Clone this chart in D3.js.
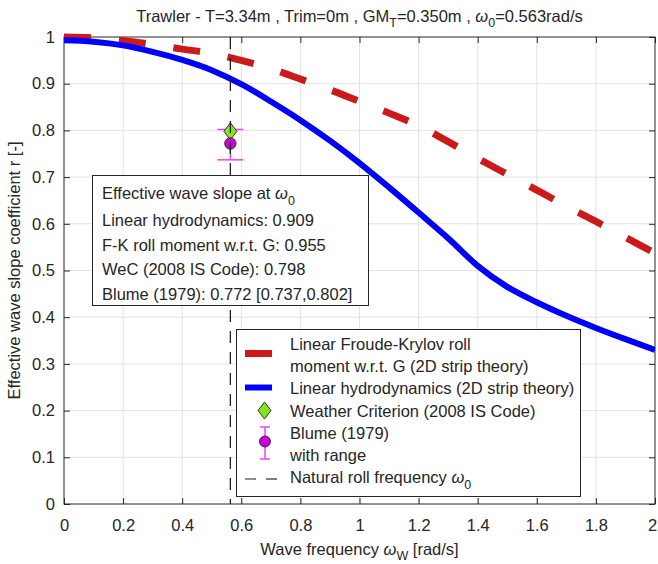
<!DOCTYPE html>
<html>
<head>
<meta charset="utf-8">
<script src="https://cdn.jsdelivr.net/npm/d3@7"></script>
<style>
  html, body { margin: 0; padding: 0; background: #fff; }
  svg text { font-family: "Liberation Sans", Arial, Helvetica, sans-serif; fill: #262626; }
</style>
</head>
<body>
<svg id="chart" width="658" height="564"></svg>
<script>
// Wave frequency grid [rad/s]
const omega = [0, 0.1, 0.2, 0.3, 0.4, 0.5, 0.6, 0.7, 0.8, 0.9, 1.0,
               1.1, 1.2, 1.3, 1.4, 1.5, 1.6, 1.7, 1.8, 1.9, 2.0];
// Linear Froude-Krylov roll moment w.r.t. G (2D strip theory)
const rFK = [1.000, 0.998, 0.992, 0.984, 0.974, 0.965, 0.950, 0.932, 0.910, 0.887, 0.862,
             0.837, 0.810, 0.776, 0.740, 0.706, 0.672, 0.638, 0.605, 0.571, 0.537];
// Linear hydrodynamics (2D strip theory)
const rLin = [0.993, 0.990, 0.982, 0.968, 0.951, 0.929, 0.899, 0.862, 0.822, 0.778, 0.730,
              0.678, 0.624, 0.569, 0.510, 0.465, 0.432, 0.403, 0.377, 0.353, 0.330];

// Natural roll frequency and point estimates at omega0
const omega0 = 0.563;
const rWeC = 0.798;
const rBlume = 0.772;
const blumeRange = [0.737, 0.802];
const rLinAt0 = 0.909;
const rFKAt0 = 0.955;

const xTicks = [0, 0.2, 0.4, 0.6, 0.8, 1, 1.2, 1.4, 1.6, 1.8, 2];
const yTicks = [0, 0.1, 0.2, 0.3, 0.4, 0.5, 0.6, 0.7, 0.8, 0.9, 1];

const FS = 16.5, FSUB = 12.5;
const svg = d3.select("#chart");
const L = 64, R = 655, T = 37, B = 504;
const x = d3.scaleLinear().domain([0, 2]).range([L, R]);
const y = d3.scaleLinear().domain([0, 1]).range([B, T]);
const axisColor = "#262626";

// grid
const grid = svg.append("g");
grid.selectAll("line.gx").data(xTicks.slice(1, -1)).join("line")
  .attr("x1", d => x(d)).attr("x2", d => x(d)).attr("y1", T).attr("y2", B)
  .attr("stroke", "#e3e3e3").attr("stroke-width", 1);
grid.selectAll("line.gy").data(yTicks.slice(1, -1)).join("line")
  .attr("x1", L).attr("x2", R).attr("y1", d => y(d)).attr("y2", d => y(d))
  .attr("stroke", "#e3e3e3").attr("stroke-width", 1);

// axes (inward ticks on all four sides)
const fmt = d => d3.format("")(d);
const gB = svg.append("g").attr("transform", `translate(0,${B})`)
  .call(d3.axisBottom(x).tickValues(xTicks).tickSizeInner(-6).tickSizeOuter(0).tickPadding(15).tickFormat(fmt));
const gL = svg.append("g").attr("transform", `translate(${L},0)`)
  .call(d3.axisLeft(y).tickValues(yTicks).tickSizeInner(-6).tickSizeOuter(0).tickPadding(9).tickFormat(fmt));
const gTop = svg.append("g").attr("transform", `translate(0,${T})`)
  .call(d3.axisTop(x).tickValues(xTicks).tickSizeInner(-6).tickSizeOuter(0).tickFormat(""));
const gR = svg.append("g").attr("transform", `translate(${R},0)`)
  .call(d3.axisRight(y).tickValues(yTicks).tickSizeInner(-6).tickSizeOuter(0).tickFormat(""));
[gB, gL, gTop, gR].forEach(g => {
  g.select(".domain").remove();
  g.selectAll(".tick line").attr("stroke", axisColor);
  g.selectAll(".tick text").attr("font-size", FS).attr("fill", axisColor)
    .style("font-family", '"Liberation Sans", Arial, sans-serif');
});
// keep the last x tick label inside the page
gB.selectAll(".tick text").filter(d => d === 2).attr("text-anchor", "end").attr("dx", "0.1em");
svg.append("rect").attr("x", L).attr("y", T).attr("width", R - L).attr("height", B - T)
  .attr("fill", "none").attr("stroke", axisColor).attr("stroke-width", 1);

// curves
const line = d3.line().x(d => x(d[0])).y(d => y(d[1])).curve(d3.curveMonotoneX);
svg.append("clipPath").attr("id", "plotclip").append("rect")
  .attr("x", L).attr("y", T - 4).attr("width", R - L).attr("height", B - T + 8);
svg.append("path").datum(omega.map((w, i) => [w, rFK[i]]))
  .attr("d", line).attr("fill", "none").attr("stroke", "#cc1a1a")
  .attr("stroke-width", 7).attr("stroke-dasharray", "27,28").attr("clip-path", "url(#plotclip)");
svg.append("path").datum(omega.map((w, i) => [w, rLin[i]]))
  .attr("d", line).attr("fill", "none").attr("stroke", "#0000ff")
  .attr("stroke-width", 6).attr("stroke-linejoin", "round").attr("clip-path", "url(#plotclip)");

// Blume estimate with range
const eb = svg.append("g").attr("stroke", "#ee44ee").attr("stroke-width", 1.5);
eb.append("line").attr("x1", x(omega0)).attr("x2", x(omega0))
  .attr("y1", y(blumeRange[0])).attr("y2", y(blumeRange[1]));
blumeRange.forEach(v => eb.append("line")
  .attr("x1", x(omega0) - 13).attr("x2", x(omega0) + 13).attr("y1", y(v)).attr("y2", y(v)));

// Weather Criterion diamond
const diamond = (cx, cy, w, h) => `M${cx},${cy - h}L${cx + w},${cy}L${cx},${cy + h}L${cx - w},${cy}Z`;
svg.append("path").attr("d", diamond(x(omega0), y(rWeC), 6.5, 8.5))
  .attr("fill", "#80e61e").attr("stroke", "#333").attr("stroke-width", 1);
svg.append("circle").attr("cx", x(omega0)).attr("cy", y(rBlume)).attr("r", 5.7)
  .attr("fill", "#cc00dd").attr("stroke", "#333").attr("stroke-width", 1);

// natural roll frequency
svg.append("line").attr("x1", x(omega0)).attr("x2", x(omega0)).attr("y1", y(1)).attr("y2", y(0))
  .attr("stroke", "#222").attr("stroke-width", 1.3).attr("stroke-dasharray", "12,9");

// annotation box
const ann = svg.append("g");
ann.append("rect").attr("x", 92.5).attr("y", 175.5).attr("width", 276).attr("height", 130)
  .attr("fill", "#fff").attr("stroke", axisColor).attr("stroke-width", 1);
const t0 = ann.append("text").attr("x", 102).attr("y", 199).attr("font-size", FS);
t0.append("tspan").text("Effective wave slope at ");
t0.append("tspan").attr("font-style", "italic").text("ω");
t0.append("tspan").attr("font-size", FSUB).attr("dy", 6).text("0");
const annLines = [
  `Linear hydrodynamics: ${rLinAt0.toFixed(3)}`,
  `F-K roll moment w.r.t. G: ${rFKAt0.toFixed(3)}`,
  `WeC (2008 IS Code): ${rWeC.toFixed(3)}`,
  `Blume (1979): ${rBlume.toFixed(3)} [${blumeRange[0].toFixed(3)},${blumeRange[1].toFixed(3)}]`
];
annLines.forEach((s, i) => ann.append("text").attr("x", 102).attr("y", 226 + i * 24.5)
  .attr("font-size", FS).text(s));

// legend
const lg = svg.append("g");
lg.append("rect").attr("x", 236.5).attr("y", 329.5).attr("width", 344).attr("height", 167)
  .attr("fill", "#fff").attr("stroke", axisColor).attr("stroke-width", 1);
const tx = 290;
[["Linear Froude-Krylov roll", 350], ["moment w.r.t. G (2D strip theory)", 372],
 ["Linear hydrodynamics (2D strip theory)", 394], ["Weather Criterion (2008 IS Code)", 416.5],
 ["Blume (1979)", 439], ["with range", 461]].forEach(([s, yy]) =>
  lg.append("text").attr("x", tx).attr("y", yy).attr("font-size", FS).text(s));
const lt = lg.append("text").attr("x", tx).attr("y", 482.5).attr("font-size", FS);
lt.append("tspan").text("Natural roll frequency ");
lt.append("tspan").attr("font-style", "italic").text("ω");
lt.append("tspan").attr("font-size", FSUB).attr("dy", 6).text("0");

lg.append("line").attr("x1", 245).attr("x2", 272).attr("y1", 353.5).attr("y2", 353.5)
  .attr("stroke", "#cc1a1a").attr("stroke-width", 7);
lg.append("line").attr("x1", 245).attr("x2", 272).attr("y1", 387.5).attr("y2", 387.5)
  .attr("stroke", "#0000ff").attr("stroke-width", 6);
lg.append("path").attr("d", diamond(264.5, 410.5, 6.5, 8.5))
  .attr("fill", "#80e61e").attr("stroke", "#333").attr("stroke-width", 1);
const leb = lg.append("g").attr("stroke", "#ee44ee").attr("stroke-width", 1.5);
leb.append("line").attr("x1", 265).attr("x2", 265).attr("y1", 427).attr("y2", 459);
[427, 459].forEach(v => leb.append("line").attr("x1", 260).attr("x2", 270).attr("y1", v).attr("y2", v));
lg.append("circle").attr("cx", 265).attr("cy", 441.5).attr("r", 5.5)
  .attr("fill", "#cc00dd").attr("stroke", "#333").attr("stroke-width", 1);
lg.append("line").attr("x1", 245).attr("x2", 281).attr("y1", 479).attr("y2", 479)
  .attr("stroke", "#555").attr("stroke-width", 1.3).attr("stroke-dasharray", "11,10");

// title
const title = svg.append("text").attr("x", (L + R) / 2).attr("y", 22)
  .attr("text-anchor", "middle").attr("font-size", FS).attr("fill", "#000");
title.append("tspan").text("Trawler - T=3.34m , Trim=0m , GM");
title.append("tspan").attr("font-size", FSUB).attr("dy", 5).text("T");
title.append("tspan").attr("dy", -5).text("=0.350m , ");
title.append("tspan").attr("font-style", "italic").text("ω");
title.append("tspan").attr("font-size", FSUB).attr("dy", 5).text("0");
title.append("tspan").attr("dy", -5).text("=0.563rad/s");

// x label
const xl = svg.append("text").attr("x", (L + R) / 2).attr("y", 555)
  .attr("text-anchor", "middle").attr("font-size", FS);
xl.append("tspan").text("Wave frequency ");
xl.append("tspan").attr("font-style", "italic").text("ω");
xl.append("tspan").attr("font-size", FSUB).attr("dy", 5).text("W");
xl.append("tspan").attr("dy", -5).text(" [rad/s]");

// y label
svg.append("text").attr("transform", `translate(20,${(T + B) / 2}) rotate(-90)`)
  .attr("text-anchor", "middle").attr("font-size", FS)
  .text("Effective wave slope coefficient  r [-]");
</script>
</body>
</html>
